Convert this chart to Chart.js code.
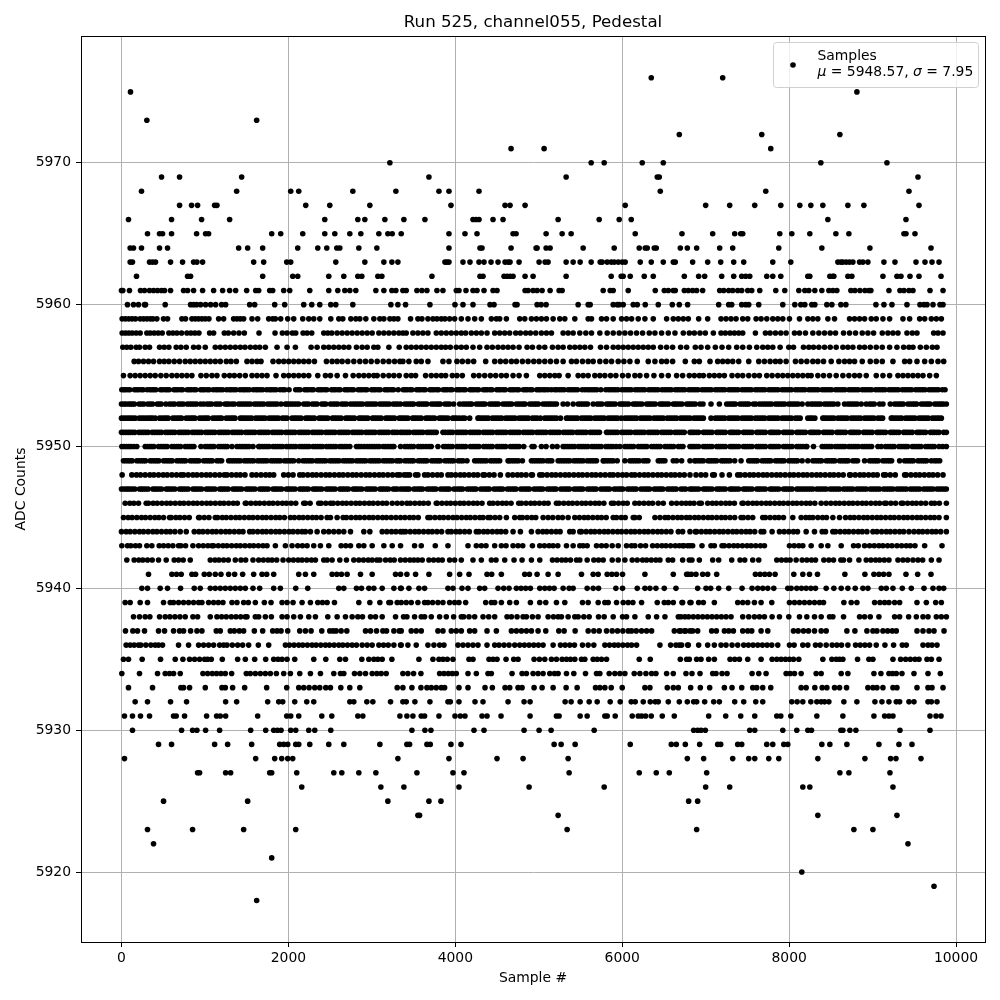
<!DOCTYPE html>
<html>
<head>
<meta charset="utf-8">
<title>Run 525, channel055, Pedestal</title>
<script src="https://cdn.jsdelivr.net/npm/chart.js@4"></script>
<style>
  html, body { margin: 0; padding: 0; background: white; }
  canvas { display: block; }
</style>
</head>
<body>
<canvas id="pedestal" width="1000" height="1000"></canvas>
<script>
// sample numbers that landed on each ADC count
const s5976 = [6348,7204];
const s5975 = [108,8812];
const s5973 = [304,1620];
const s5972 = [6684,7672,8608];
const s5971 = [4668,5064,7780];
const s5970 = [3216,5628,5784,6240,6492,8380,9172];
const s5969 = [480,696,1440,3684,5328,6420,6444,9544];
const s5968 = [240,1380,2028,2124,2772,3288,3804,3924,4284,6456,7720,9436];
const s5967 = [696,840,912,1116,1144,2208,2496,2976,3948,4596,4656,4836,6036,7000,7288,7588,7900,8128,8260,8404,8704,8896,9556];
const s5966 = [84,600,960,1296,2436,2832,2916,3156,3384,3636,4212,4248,4284,4452,4572,5232,5724,5964,6108,8464,9400];
const s5965 = [312,456,492,600,900,1008,1044,1800,1908,2172,2436,2556,2736,2868,3084,3192,3244,3352,3924,4116,4260,4692,4728,5088,5280,5388,6156,6716,7084,7348,7420,7444,7888,8032,8248,8560,8716,9376,9400,9508];
const s5964 = [104,144,240,456,552,1404,1512,1692,2112,2352,2460,2580,2616,2844,3060,3924,4296,4320,4668,4968,4980,5088,5136,5532,5904,6204,6276,6300,6384,6408,6696,6780,6892,7168,7324,7876,8392,8968,9700];
const s5963 = [104,132,336,372,408,588,732,864,904,972,1584,1704,1980,2028,2568,2916,3144,3240,3312,3876,3900,3924,4092,4176,4284,4344,4428,4512,4596,4632,4656,4764,5004,5076,5112,5328,5412,5496,5628,5736,5760,5820,5868,5904,5952,6000,6036,6216,6348,6492,6612,6636,6844,7024,7180,7336,7456,7804,8020,8584,8620,8644,8684,8724,8764,8844,8884,8944,9136,9268,9520,9628,9712,9796];
const s5962 = [180,792,828,1692,2052,2112,2484,2664,2832,2880,3072,3120,3720,4296,4332,4584,4620,4656,4692,4836,4932,5328,5868,5988,6012,6096,6264,6372,6744,6916,6988,7192,7336,7432,7480,7528,7732,7804,7900,8224,8248,8488,8524,8536,8704,8752,9124,9292,9340,9448,9556,9820];
const s5961 = [0,16,96,228,276,336,384,432,480,516,588,744,792,864,972,1104,1212,1296,1368,1500,1608,1644,1776,1812,1944,2016,2256,2484,2592,2676,2736,2808,3048,3144,3240,3288,3372,3412,3540,3600,3660,3780,3852,4012,4044,4128,4212,4260,4344,4452,4500,4836,4872,4932,4980,5040,5136,5244,5280,5772,5856,5892,6072,6396,6504,6552,6612,6636,6744,6792,6844,6892,6964,7168,7216,7276,7324,7384,7432,7504,7552,7648,7840,7948,8116,8188,8236,8308,8392,8476,8524,8572,8740,8788,8848,8908,8956,8980,9196,9328,9376,9436,9484,9688,9844];
const s5960 = [72,144,204,276,288,524,828,864,900,948,1008,1068,1128,1200,1248,1536,1596,1836,1956,2184,2280,2376,2508,2568,2772,3228,3312,3404,3696,3996,4092,4212,4416,4464,4716,4740,4980,5028,5088,5472,5592,5616,5892,5940,5964,6012,6132,6180,6276,6432,6600,6684,6784,7156,7276,7312,7432,7480,7516,7636,7924,8068,8140,8188,8272,8308,8452,8512,8620,8680,9040,9136,9232,9412,9568,9616,9652,9724,9808,9844];
const s5959 = [8,48,88,128,168,224,264,304,344,376,424,504,552,724,768,844,884,924,964,1004,1048,1164,1224,1344,1384,1424,1464,1564,1632,1764,1812,1844,1908,1992,2064,2172,2244,2304,2376,2508,2604,2652,2748,2808,2856,2928,3024,3096,3144,3216,3264,3312,3464,3552,3600,3672,3732,3780,3832,3876,3932,3992,4072,4152,4232,4312,4432,4492,4532,4612,4772,4832,4912,4972,5032,5092,5172,5252,5312,5432,5592,5632,5752,5812,5892,5992,6052,6112,6192,6272,6372,6532,6612,6672,6732,6792,6916,7024,7184,7244,7304,7364,7444,7504,7604,7664,7732,7804,7864,7924,8004,8124,8224,8284,8344,8464,8544,8724,8784,8844,8904,8984,9044,9124,9204,9364,9444,9564,9624,9704,9764,9824];
const s5958 = [8,48,88,128,176,224,304,344,392,440,488,568,616,664,720,784,832,880,928,1056,1104,1232,1280,1344,1408,1472,1648,1840,1928,1984,2048,2088,2176,2224,2280,2424,2472,2520,2584,2644,2704,2764,2824,2884,2944,3004,3084,3144,3204,3264,3324,3372,3412,3492,3552,3612,3672,3772,3832,3892,3952,4012,4072,4124,4192,4252,4312,4380,4472,4532,4592,4652,4724,4780,4844,4900,4964,5032,5092,5152,5292,5352,5412,5492,5564,5632,5732,5820,5892,5964,6032,6100,6172,6244,6324,6392,6472,6552,6632,6732,6804,6864,6932,6996,7092,7184,7236,7292,7344,7396,7444,7596,7716,7772,7836,7900,7964,8064,8124,8196,8284,8356,8424,8492,8556,8652,8724,8796,8876,8944,9012,9116,9184,9244,9304,9412,9476,9532,9732,9784,9844];
const s5957 = [16,64,112,176,216,284,336,456,512,568,656,712,776,864,924,1004,1124,1184,1244,1304,1364,1424,1480,1544,1604,1656,1724,1864,1984,2084,2272,2344,2424,2484,2544,2604,2664,2724,2816,2884,2944,3024,3072,3204,3328,3412,3472,3532,3592,3652,3712,3772,3832,3884,3940,4012,4072,4132,4212,4292,4380,4444,4512,4572,4632,4692,4764,4860,4924,5004,5072,5164,5232,5292,5372,5432,5492,5552,5620,5740,5812,5892,5952,6012,6072,6132,6192,6252,6312,6372,6460,6532,6604,6700,6772,6876,6944,7024,7116,7196,7276,7372,7444,7524,7612,7684,7744,7804,7892,7996,8052,8172,8236,8292,8356,8424,8492,8564,8644,8704,8764,8844,8904,8972,9044,9116,9204,9292,9372,9436,9484,9572,9644,9716,9772];
const s5956 = [152,204,264,324,384,456,512,568,632,696,764,824,884,944,1004,1064,1124,1184,1256,1312,1376,1504,1564,1624,1672,1816,1884,1944,2004,2064,2124,2184,2244,2312,2456,2524,2584,2644,2712,2784,2856,2924,2992,3064,3136,3204,3272,3336,3372,3444,3532,3592,3672,3852,3924,4020,4084,4152,4220,4364,4472,4540,4604,4672,4732,4804,4872,4940,5004,5072,5140,5212,5292,5392,5452,5524,5592,5652,5732,5804,5872,5952,6020,6092,6180,6312,6392,6472,6532,6604,6756,6864,6924,7052,7144,7204,7264,7324,7396,7516,7636,7704,7772,7836,7892,7964,8076,8144,8212,8284,8344,8412,8504,8596,8664,8724,8784,8876,8972,9044,9116,9244,9384,9444,9532,9624,9704,9784,9852];
const s5955 = [24,104,164,224,284,344,404,472,536,604,664,724,784,844,952,1016,1084,1144,1232,1296,1352,1416,1484,1564,1624,1684,1744,1852,1944,2004,2064,2124,2184,2244,2352,2444,2504,2584,2684,2776,2844,2904,2964,3024,3064,3136,3204,3264,3328,3412,3472,3524,3644,3712,3772,3832,3884,3964,4020,4084,4220,4284,4352,4420,4484,4552,4612,4692,4764,4852,5012,5072,5132,5192,5244,5352,5472,5532,5592,5672,5732,5792,5860,5924,6004,6072,6152,6212,6292,6380,6472,6552,6652,6724,6804,6864,6924,6972,7044,7104,7164,7224,7316,7384,7444,7516,7584,7644,7732,7796,7864,7924,7984,8044,8104,8164,8224,8264,8344,8412,8484,8564,8644,8716,8784,8844,8924,9044,9124,9204,9304,9364,9424,9484,9544,9604,9684,9764];
const s5954 = [4,48,100,156,204,260,308,364,412,468,524,572,628,676,732,788,836,892,948,996,1052,1100,1156,1212,1260,1316,1372,1420,1476,1532,1580,1636,1692,1740,1796,1852,1900,1956,2008,2088,2140,2196,2244,2300,2356,2404,2460,2516,2564,2620,2676,2724,2780,2836,2884,2940,2996,3044,3100,3156,3204,3260,3316,3376,3424,3480,3536,3584,3640,3696,3744,3800,3856,3904,3960,4016,4064,4120,4176,4224,4280,4336,4384,4440,4496,4544,4600,4656,4704,4760,4816,4864,4920,4976,5024,5080,5112,5152,5192,5248,5304,5352,5408,5464,5520,5552,5584,5640,5696,5744,5804,5836,5892,5948,5996,6052,6108,6156,6212,6268,6316,6372,6428,6476,6532,6588,6636,6692,6748,6796,6852,6908,6956,7012,7068,7116,7172,7228,7276,7332,7388,7436,7492,7548,7596,7652,7708,7756,7812,7868,7916,7972,8028,8076,8132,8188,8236,8292,8348,8396,8452,8508,8556,8612,8668,8716,8772,8828,8876,8932,8988,9036,9092,9148,9196,9252,9308,9356,9412,9468,9516,9572,9628,9676,9732,9788,9836,9868];
const s5953 = [0,52,108,156,212,268,316,372,428,476,532,576,636,684,740,788,844,900,948,984,1024,1080,1128,1184,1240,1288,1324,1352,1404,1432,1488,1544,1592,1648,1704,1752,1808,1864,1912,1964,1984,2040,2096,2124,2184,2240,2288,2344,2400,2448,2504,2536,2592,2640,2696,2744,2776,2832,2888,2936,2992,3048,3096,3152,3208,3256,3312,3344,3396,3452,3500,3556,3612,3660,3716,3772,3820,3876,3932,3980,4052,4092,4148,4196,4252,4308,4356,4412,4468,4516,4572,4628,4676,4732,4788,4836,4892,4948,4996,5052,5108,5156,5212,5292,5344,5412,5472,5528,5584,5652,5700,5756,5812,5860,5916,5972,6020,6076,6132,6180,6236,6292,6340,6396,6452,6500,6556,6612,6660,6716,6772,6820,6876,6932,6968,7064,7164,7252,7308,7356,7412,7468,7516,7572,7644,7676,7732,7788,7836,7892,7948,7996,8052,8108,8156,8224,8264,8320,8376,8424,8480,8536,8584,8664,8704,8760,8816,8864,8924,8964,9020,9084,9124,9212,9264,9320,9368,9424,9480,9528,9584,9640,9688,9744,9800,9848,9884];
const s5952 = [0,56,108,164,212,268,324,372,404,456,512,560,616,672,720,776,832,880,936,992,1040,1096,1152,1200,1256,1312,1360,1424,1448,1504,1560,1608,1664,1720,1768,1824,1880,1928,1984,2044,2096,2152,2208,2256,2312,2368,2416,2472,2528,2576,2632,2688,2736,2792,2848,2896,2952,3008,3056,3112,3168,3216,3272,3328,3376,3432,3488,3536,3592,3648,3696,3752,3808,3856,3912,3968,4016,4084,4112,4172,4272,4284,4340,4396,4444,4500,4556,4604,4660,4716,4764,4820,4876,4924,4980,5072,5100,5156,5212,5260,5332,5352,5408,5464,5512,5568,5624,5672,5728,5784,5832,5888,5944,6032,6060,6116,6172,6220,6276,6332,6380,6436,6492,6540,6596,6652,6700,6756,6812,6860,6916,6972,7064,7116,7172,7228,7276,7332,7388,7436,7492,7548,7596,7652,7708,7756,7812,7868,7916,7972,8028,8076,8132,8224,8252,8308,8404,8424,8480,8536,8584,8640,8696,8744,8800,8856,8904,8960,9016,9064,9120,9224,9236,9292,9348,9396,9452,9508,9556,9612,9668,9716,9772,9824];
const s5951 = [0,52,104,160,208,264,320,368,424,480,528,584,640,688,744,800,848,904,960,1008,1064,1120,1168,1224,1280,1328,1384,1440,1488,1544,1600,1648,1704,1760,1808,1864,1920,1968,2024,2080,2128,2184,2240,2288,2344,2400,2448,2504,2560,2608,2664,2720,2768,2824,2880,2928,2984,3040,3088,3144,3200,3248,3304,3344,3396,3452,3500,3556,3612,3660,3716,3772,3852,3912,3968,4016,4072,4128,4176,4232,4288,4336,4392,4448,4496,4552,4608,4656,4712,4768,4816,4872,4928,4976,5032,5088,5136,5192,5248,5296,5352,5408,5456,5512,5568,5616,5672,5728,5812,5832,5888,5944,5992,6048,6104,6152,6208,6264,6312,6368,6424,6472,6528,6584,6632,6688,6744,6812,6860,6916,6972,7020,7076,7132,7180,7236,7292,7340,7396,7452,7500,7556,7612,7660,7716,7772,7820,7876,7932,7980,8036,8092,8140,8196,8252,8300,8356,8412,8460,8516,8572,8620,8676,8732,8780,8836,8892,8940,8996,9052,9100,9156,9212,9260,9316,9372,9420,9476,9532,9580,9636,9692,9740,9796,9852,9884];
const s5950 = [4,60,112,184,284,340,388,444,500,548,604,660,708,764,820,868,952,1004,1060,1108,1164,1220,1268,1324,1384,1416,1472,1528,1576,1644,1656,1712,1768,1816,1872,1928,1976,2032,2088,2136,2192,2248,2296,2352,2408,2456,2512,2568,2616,2672,2736,2816,2872,2944,2976,3032,3088,3136,3192,3244,3264,3344,3396,3452,3500,3556,3612,3684,3712,3792,3860,3916,3964,4020,4076,4124,4180,4236,4284,4340,4396,4444,4500,4556,4604,4660,4716,4764,4820,4920,4944,5032,5088,5164,5220,5292,5316,5372,5428,5476,5532,5588,5636,5692,5748,5804,5832,5888,5972,6032,6088,6136,6192,6248,6296,6352,6408,6456,6512,6568,6616,6672,6728,6812,6860,6916,6972,7020,7076,7132,7180,7236,7292,7340,7396,7452,7500,7556,7612,7660,7716,7772,7820,7876,7932,7980,8036,8092,8140,8204,8212,8292,8396,8452,8508,8556,8612,8668,8716,8772,8828,8876,8932,8988,9064,9104,9156,9212,9260,9316,9372,9420,9476,9532,9580,9636,9692,9740,9796,9884];
const s5949 = [24,80,128,184,240,288,344,400,448,504,560,608,664,720,768,824,880,928,984,1040,1088,1144,1200,1284,1312,1368,1424,1472,1528,1584,1632,1688,1744,1792,1848,1904,1952,2008,2064,2124,2176,2232,2288,2336,2392,2448,2496,2552,2608,2656,2712,2768,2816,2872,2928,2976,3032,3088,3136,3192,3248,3296,3344,3396,3452,3500,3556,3612,3660,3716,3772,3820,3876,3932,3980,4036,4092,4140,4232,4260,4316,4372,4420,4476,4532,4632,4644,4700,4756,4804,4912,4940,4996,5052,5100,5156,5232,5260,5316,5372,5420,5476,5532,5580,5636,5692,5772,5780,5836,5892,5940,6032,6092,6148,6204,6252,6308,6432,6456,6512,6612,6652,6712,6812,6868,6916,6972,7028,7076,7132,7188,7236,7292,7348,7424,7516,7572,7620,7676,7732,7780,7836,7892,7940,7996,8052,8100,8156,8224,8284,8340,8388,8444,8500,8548,8604,8660,8708,8764,8820,8904,8964,9020,9068,9124,9180,9228,9324,9384,9440,9488,9544,9600,9648,9704,9804];
const s5948 = [8,124,180,228,284,340,388,444,500,548,604,660,712,744,800,856,904,960,1016,1064,1120,1176,1232,1264,1320,1376,1424,1480,1564,1616,1672,1728,1776,1824,1944,2000,2056,2136,2176,2232,2288,2336,2392,2448,2496,2552,2608,2656,2712,2768,2816,2872,2928,2976,3032,3088,3136,3192,3248,3304,3336,3388,3420,3452,3524,3552,3632,3672,3728,3784,3832,3912,3952,4004,4060,4108,4164,4220,4268,4332,4352,4408,4464,4540,4632,4688,4744,4792,4848,4912,4924,5012,5044,5100,5156,5204,5260,5316,5364,5420,5476,5524,5580,5636,5684,5740,5796,5852,5892,5948,6004,6052,6112,6152,6208,6264,6312,6368,6424,6472,6528,6584,6632,6688,6744,6812,6884,6944,7000,7084,7104,7196,7284,7384,7416,7472,7528,7576,7632,7688,7736,7792,7848,7896,7952,8008,8056,8112,8168,8216,8272,8328,8376,8432,8488,8536,8592,8648,8724,8736,8792,8848,8896,8952,9008,9056,9132,9156,9212,9272,9384,9404,9460,9516,9564,9620,9676,9724,9780,9844];
const s5947 = [0,56,104,160,216,264,320,376,424,480,536,584,640,696,744,800,856,904,960,1016,1064,1120,1176,1224,1280,1336,1384,1440,1496,1544,1600,1656,1704,1760,1816,1864,1920,1976,2024,2080,2136,2184,2240,2296,2344,2400,2456,2504,2560,2616,2664,2720,2776,2824,2880,2936,2984,3040,3096,3144,3200,3256,3304,3344,3400,3448,3504,3560,3608,3664,3720,3768,3824,3880,3928,3984,4040,4088,4144,4200,4248,4304,4360,4408,4464,4520,4568,4624,4680,4728,4784,4840,4888,4944,5000,5048,5104,5160,5208,5264,5320,5368,5424,5480,5528,5584,5640,5688,5744,5800,5848,5904,5960,6008,6064,6120,6168,6224,6280,6328,6384,6440,6488,6544,6600,6648,6704,6760,6812,6860,6916,6972,7020,7076,7132,7180,7236,7292,7340,7396,7452,7500,7556,7612,7660,7716,7772,7820,7876,7932,7980,8036,8092,8144,8172,8228,8284,8332,8388,8444,8492,8548,8604,8652,8708,8764,8812,8868,8924,8972,9028,9084,9132,9188,9244,9292,9348,9404,9452,9508,9564,9612,9668,9724,9772,9828,9884];
const s5946 = [44,100,148,204,296,324,380,428,484,540,588,644,700,748,804,860,908,964,1020,1068,1124,1180,1228,1284,1340,1388,1484,1496,1552,1608,1656,1712,1768,1816,1872,1928,1976,2032,2088,2184,2204,2260,2364,2392,2448,2504,2536,2592,2648,2696,2752,2808,2856,2912,2968,3016,3072,3128,3176,3244,3304,3360,3420,3460,3516,3572,3620,3676,3772,3784,3840,3896,3944,4000,4056,4104,4160,4216,4264,4320,4412,4452,4508,4564,4612,4668,4760,4792,4848,4904,4952,5008,5064,5112,5212,5244,5300,5356,5404,5460,5516,5564,5620,5676,5724,5780,5872,5900,5956,6012,6060,6152,6204,6260,6316,6364,6432,6492,6592,6652,6712,6764,6812,6860,6924,6948,7024,7080,7128,7184,7240,7288,7344,7436,7452,7508,7564,7612,7668,7724,7772,7828,7884,7932,7988,8044,8092,8148,8204,8252,8308,8384,8444,8500,8556,8604,8660,8716,8764,8820,8876,8924,8980,9036,9084,9144,9164,9220,9276,9344,9364,9420,9476,9524,9580,9636,9704,9744,9800,9884];
const s5945 = [24,80,128,184,240,288,344,400,448,504,576,596,652,700,756,812,924,936,992,1048,1124,1152,1208,1256,1312,1368,1416,1472,1528,1576,1632,1688,1736,1792,1848,1896,1952,2024,2072,2128,2176,2232,2288,2336,2392,2464,2504,2584,2656,2696,2752,2808,2856,2912,2968,3016,3072,3128,3176,3232,3288,3344,3396,3452,3500,3556,3672,3700,3756,3812,3860,3916,3972,4020,4076,4132,4180,4236,4292,4332,4392,4420,4476,4532,4612,4712,4772,4804,4860,4916,4964,5052,5112,5168,5232,5284,5352,5432,5488,5544,5592,5648,5704,5752,5808,5892,5932,5988,6036,6132,6152,6204,6392,6452,6512,6552,6608,6664,6712,6768,6812,6868,6916,6972,7028,7076,7132,7188,7236,7292,7348,7424,7452,7508,7564,7684,7716,7772,7828,7876,7932,8044,8144,8200,8244,8284,8344,8400,8448,8524,8604,8676,8732,8780,8836,8892,8940,8996,9052,9100,9156,9212,9260,9316,9372,9420,9476,9532,9580,9636,9692,9740,9796,9884];
const s5944 = [0,56,104,160,216,264,320,376,424,480,536,584,640,704,776,872,928,976,1032,1088,1136,1192,1248,1296,1352,1408,1456,1536,1576,1632,1688,1736,1792,1848,1896,1952,2008,2056,2112,2164,2204,2264,2344,2424,2484,2544,2604,2664,2744,2904,2976,3124,3180,3236,3288,3344,3372,3404,3460,3516,3564,3620,3676,3724,3780,3836,3912,3952,4008,4056,4112,4168,4252,4284,4340,4388,4444,4500,4548,4604,4692,4780,4912,4992,5048,5096,5152,5208,5256,5372,5412,5492,5512,5568,5624,5672,5728,5784,5832,5888,5944,5992,6048,6104,6152,6208,6264,6312,6368,6424,6472,6528,6584,6672,6724,6812,6876,6892,6948,7004,7052,7108,7164,7212,7268,7324,7372,7428,7484,7532,7588,7664,7696,7796,7884,7940,7996,8052,8100,8204,8304,8396,8436,8524,8556,8612,8668,8716,8772,8828,8876,8932,9004,9052,9108,9164,9212,9268,9324,9372,9436,9496,9552,9600,9656,9712,9760,9816,9884];
const s5943 = [4,72,112,168,216,304,364,452,504,560,616,684,712,768,856,924,980,1036,1084,1104,1160,1216,1264,1320,1376,1424,1480,1536,1584,1640,1696,1744,1844,1964,2044,2112,2168,2224,2304,2384,2484,2632,2688,2744,2844,2904,3004,3144,3244,3344,3512,3592,3760,3912,4152,4252,4312,4368,4472,4552,4608,4692,4752,4808,4924,5012,5068,5124,5172,5228,5332,5412,5492,5532,5580,5692,5752,5808,5880,5952,6052,6112,6152,6220,6280,6364,6420,6476,6524,6580,6636,6684,6740,6812,6724,6784,6844,6956,7064,7104,7196,7224,7280,7336,7384,7440,7496,7544,7600,7656,7704,8004,8060,8116,8164,8264,8384,8464,8624,8772,8828,8904,8964,9020,9076,9124,9180,9232,9292,9348,9404,9452,9508,9624,9832];
const s5942 = [64,152,208,256,312,368,444,536,632,684,740,824,1064,1120,1168,1224,1280,1364,1432,1488,1576,1644,1700,1756,1804,1860,1936,2004,2060,2116,2164,2220,2276,2324,2424,2464,2524,2616,2696,2784,2844,2900,2956,3004,3060,3096,3164,3220,3268,3344,3400,3456,3504,3552,3604,3684,3740,3796,3844,3932,3992,4072,4212,4312,4432,4488,4592,4704,4800,4912,5012,5164,5220,5276,5324,5380,5452,5492,5580,5660,5716,5772,5880,5952,6032,6120,6180,6244,6292,6348,6404,6452,6552,6604,6724,6804,6836,6924,7084,7156,7312,7412,7468,7564,7636,7852,7908,7964,8012,8084,8156,8212,8268,8316,8416,8476,8532,8620,8652,8724,8836,8924,8980,9036,9084,9140,9196,9304,9364,9420,9484,9544,9600,9704,9796];
const s5941 = [324,604,660,716,844,888,992,1052,1124,1192,1284,1356,1452,1584,1684,1740,1824,2124,2204,2304,2524,2580,2636,2704,2864,3004,3284,3344,3420,3524,3684,3932,4052,4164,4380,4436,4552,4832,4888,4980,5112,5232,5512,5652,5712,5820,5876,5932,6004,6272,6612,6792,6772,6828,6884,6964,7024,7132,7596,7652,7708,7764,7832,8056,8164,8244,8340,8668,8908,9016,9076,9132,9196,9400,9540,9700];
const s5940 = [244,312,464,552,708,872,944,1064,1124,1184,1244,1304,1364,1424,1484,1576,1656,1824,1904,2088,2232,2604,2664,2816,2876,2964,3024,3124,3264,3344,3352,3444,3564,3632,3912,3972,4080,4152,4292,4352,4512,4580,4644,4732,4788,4844,4900,5012,5072,5128,5184,5292,5364,5412,5580,5652,5716,5924,6004,6180,6272,6332,6404,6504,6644,6904,7004,7060,7156,7276,7436,7556,7624,7684,7744,7816,7984,8024,8092,8148,8204,8260,8316,8444,8536,8624,8704,8792,8884,8944,9104,9164,9244,9356,9464,9616,9724,9796,9852];
const s5939 = [44,104,224,312,504,584,624,684,744,804,864,924,964,1044,1104,1160,1216,1324,1384,1464,1520,1604,1712,1792,1924,1984,2056,2164,2264,2352,2408,2464,2552,2844,2976,3096,3204,3224,3304,3352,3412,3472,3552,3632,3672,3728,3792,3852,3932,3992,4044,4124,4364,4432,4472,4552,4652,4732,4900,5012,5084,5212,5312,5524,5592,5712,5792,5832,5932,6012,6072,6128,6232,6420,6504,6552,6612,6724,6812,6716,6824,6916,6972,7104,7384,7444,7504,7584,7664,7792,8004,8064,8124,8184,8244,8304,8364,8412,8656,8744,8812,9024,9088,9144,9196,9264,9324,9532,9644,9756,9824];
const s5938 = [144,216,284,340,456,524,580,640,700,764,856,912,1064,1144,1200,1256,1316,1372,1428,1484,1504,1604,1644,1724,1796,1924,1984,2064,2144,2244,2324,2472,2584,2684,2764,2832,2888,2984,3044,3124,3284,3380,3420,3512,3592,3632,3712,3812,3892,3980,4072,4100,4164,4232,4332,4400,4472,4620,4672,4740,4812,4852,4924,4992,5112,5176,5232,5272,5352,5432,5472,5540,5604,5716,5784,5892,6004,6052,6152,6312,6412,6512,6672,6752,6704,6796,6852,6908,6964,7020,7076,7132,7188,7244,7304,7444,7516,7584,7644,7704,7796,7884,7996,8124,8212,8304,8384,8484,8524,8652,8844,8904,8972,9076,9264,9324,9432,9524,9604,9664,9764,9824,9884];
const s5937 = [48,136,192,276,444,516,624,696,744,828,904,964,1136,1184,1304,1352,1412,1464,1592,1692,1812,1864,1912,1992,2136,2204,2272,2400,2496,2536,2572,2632,2700,2924,2984,3056,3132,3176,3264,3328,3352,3472,3532,3592,3792,3852,3952,4012,4072,4172,4232,4380,4492,4672,4732,4792,4852,4912,4992,5084,5240,5304,5436,5592,5660,5724,5812,5880,5944,6008,6072,6112,6168,6232,6292,6352,6624,6700,6760,6812,6684,6748,6844,6904,7072,7128,7224,7276,7332,7444,7504,7552,7664,7744,8052,8108,8172,8232,8304,8384,8444,8692,8788,8932,9004,9052,9124,9180,9236,9284,9532,9604,9676,9736,9856];
const s5936 = [56,104,152,204,232,292,352,404,444,492,684,804,924,984,1044,1104,1176,1224,1264,1328,1392,1452,1524,1640,1764,1964,2012,2068,2124,2172,2228,2284,2332,2388,2444,2492,2548,2604,2652,2708,2764,2816,2884,2944,3004,3084,3140,3196,3264,3344,3352,3432,3532,3672,3744,3812,3864,4032,4092,4152,4212,4272,4380,4472,4524,4584,4644,4712,4772,4828,4884,4940,4996,5052,5172,5260,5316,5372,5428,5524,5592,5660,5792,5848,5904,5952,6008,6064,6112,6172,6452,6580,6644,6712,6792,6684,6784,6916,7024,7104,7184,7244,7316,7384,7456,7512,7568,7624,7680,7736,7792,7864,8004,8060,8164,8224,8316,8372,8444,8516,8572,8628,8704,8796,8852,8908,8964,9044,9148,9252,9356,9404,9604,9664,9712,9772];
const s5935 = [24,84,248,468,644,736,816,876,936,996,1032,1076,1208,1392,1484,1596,1728,1824,1876,1924,1984,2076,2304,2448,2616,2684,2880,2964,3024,3072,3124,3240,3564,3732,3804,3852,3904,3972,4164,4212,4404,4452,4500,4608,4700,4752,4944,5008,5072,5152,5212,5280,5332,5380,5432,5512,5552,5652,5700,5752,5812,6204,6336,6696,6772,6804,6892,6944,7036,7104,7292,7348,7404,7504,7664,7796,7852,7904,7956,8004,8052,8116,8404,8512,8564,8604,8644,8820,8956,9004,9244,9336,9396,9452,9508,9556,9652,9704,9796];
const s5934 = [4,216,432,524,576,624,704,976,1032,1088,1140,1192,1244,1320,1496,1544,1604,1664,1724,1784,1856,1944,2024,2136,2264,2384,2544,2624,2664,2792,2856,2924,3004,3060,3112,3172,3372,3432,3500,3588,3812,3864,3916,3964,4012,4152,4252,4392,4432,4680,4800,4852,4932,4992,5052,5132,5188,5232,5332,5420,5560,5692,5732,5844,5912,5972,6032,6144,6212,6284,6352,6404,6532,6612,6764,6836,6932,7084,7124,7196,7256,7556,7636,7724,7964,8012,8064,8144,8324,8384,8624,8704,9016,9100,9196,9240,9284,9352,9496,9664,9812];
const s5933 = [84,372,712,744,816,1004,1204,1244,1332,1476,1740,1980,2124,2184,2248,2316,2376,2448,2504,2628,2736,2856,3304,3372,3480,3588,3660,3712,3772,3832,3872,4044,4152,4356,4444,4596,4652,4752,4800,4944,5040,5172,5328,5460,5680,5732,5792,5868,6000,6272,6332,6540,6612,6672,6820,6936,7048,7224,7316,7432,7564,7612,7684,7780,8144,8204,8308,8396,8452,8544,8604,8688,8944,9004,9052,9124,9244,9292,9532,9664,9712,9844];
const s5932 = [164,312,588,780,1248,1380,1752,1884,1932,2076,2220,2304,2736,2784,2940,3012,3224,3372,3412,3516,3696,3912,3940,4044,4236,4332,4632,4824,4896,5316,5388,5496,5604,5700,5856,5976,6108,6156,6252,6336,6396,6432,6552,6684,6780,6856,6892,6988,7096,7164,7348,7456,7600,7684,8032,8096,8164,8260,8332,8384,8424,8476,8656,8812,9028,9112,9196,9284,9324,9436,9496,9664,9704,9772];
const s5931 = [36,132,228,336,624,656,756,1020,1140,1184,1248,1632,1980,2028,2124,2400,2520,2832,2892,3336,3420,3492,3592,3632,3804,3996,4060,4116,4320,4380,4548,4896,5212,5244,5496,5580,5792,5820,5916,6120,6192,6232,6280,6348,6480,6624,7036,7240,7420,7588,7852,7900,8020,8332,8644,9016,9144,9196,9244,9688,9760,9820];
const s5930 = [132,720,852,904,1008,1176,1548,1728,1824,1868,1912,2028,2088,2244,2316,2508,3480,3636,3708,4224,4344,4824,5004,5148,5664,6856,6904,6944,6996,7528,7588,7924,8092,8224,8268,8620,8644,8728,8800,9328,9688];
const s5929 = [444,600,1116,1272,1560,1896,1944,1992,2088,2124,2256,2484,2664,3096,3420,3452,3660,3700,3948,4068,5184,5268,5436,6096,6588,6648,6756,6928,7144,7180,7384,7432,7732,7804,7936,7984,8392,8488,8692,9076,9316,9472];
const s5928 = [36,1608,1836,1920,1992,2052,3312,3924,4500,4812,5352,6780,6976,7324,7516,7588,7756,7876,8344,8908,9216,9280,9580];
const s5927 = [912,936,1248,1308,1776,1800,2100,2544,2640,2844,3048,3540,3972,4104,5364,6204,6408,6564,7012,8608,8716,9208];
const s5926 = [2160,3108,3384,4044,4884,5784,7000,7288,8164,8248,9244];
const s5925 = [504,1512,3192,3684,3828,6796,6904];
const s5924 = [3552,3572,5232,8344,9292];
const s5923 = [312,852,1464,2088,5340,6892,8776,9004];
const s5922 = [384,9424];
const s5921 = [1800];
const s5920 = [8152];
const s5919 = [9736];
const s5918 = [1620];

// further samples on the busiest rows, these run almost solid in the picture
const e5954 = [28,76,180,236,340,388,492,548,652,708,812,868,972,1028,1132,1184,1292,1344,1452,1504,1612,1664,1772,1824,1932,2116,2220,2276,2380,2436,2540,2596,2700,2756,2860,2916,3020,3076,3180,3236,3400,3456,3560,3616,3720,3776,3880,3936,4040,4096,4200,4256,4360,4416,4520,4576,4680,4736,4840,4896,5000,5056,5216,5276,5380,5436,5612,5668,5864,5920,6024,6080,6184,6240,6344,6400,6504,6560,6664,6720,6824,6880,6984,7040,7144,7200,7304,7360,7464,7520,7624,7680,7784,7840,7944,8000,8104,8160,8264,8320,8424,8480,8584,8640,8744,8800,8904,8960,9064,9120,9224,9280,9384,9440,9544,9600,9704,9760];
const e5953 = [28,84,132,240,344,452,608,712,816,872,1052,1156,1264,1460,1516,1620,1676,1780,1836,2012,2068,2212,2316,2424,2564,2668,2804,2860,2964,3020,3124,3180,3284,3424,3476,3584,3636,3744,3796,3904,4120,4176,4280,4332,4440,4492,4600,4652,4760,4816,4920,4972,5080,5132,5184,5500,5556,5728,5836,5888,5996,6048,6156,6208,6316,6368,6476,6528,6636,6688,6796,6848,7280,7332,7440,7492,7600,7704,7760,7864,7920,8024,8080,8292,8348,8452,8508,8732,8788,8992,9292,9344,9452,9504,9612,9664,9772,9824];
const e5952 = [28,84,136,240,296,348,484,536,644,696,804,856,964,1016,1124,1176,1284,1336,1476,1532,1636,1692,1796,1852,1956,2072,2124,2232,2284,2392,2444,2552,2604,2712,2764,2872,2924,3032,3084,3192,3244,3352,3404,3512,3564,3672,3724,3832,3884,3992,4048,4312,4368,4472,4528,4632,4688,4792,4848,4952,5020,5128,5184,5380,5436,5540,5596,5700,5756,5860,5916,5988,6088,6144,6248,6304,6408,6464,6568,6624,6728,6784,6888,6944,7144,7200,7304,7360,7464,7520,7624,7680,7784,7840,7944,8000,8104,8276,8452,8508,8612,8668,8772,8828,8932,8988,9092,9264,9320,9424,9480,9584,9640,9744,9796];
const e5951 = [24,80,132,236,292,396,452,556,612,716,772,876,932,1036,1092,1196,1252,1356,1412,1516,1572,1676,1732,1836,1892,1996,2052,2156,2212,2316,2372,2476,2532,2636,2692,2796,2852,2956,3012,3116,3172,3276,3368,3424,3528,3584,3688,3744,3880,3940,4044,4100,4204,4260,4364,4420,4524,4580,4684,4740,4844,4900,5004,5060,5164,5220,5324,5380,5484,5540,5644,5700,5860,5916,6020,6076,6180,6236,6340,6396,6500,6556,6660,6716,6836,6888,6996,7048,7156,7208,7316,7368,7476,7528,7636,7688,7796,7848,7956,8008,8116,8168,8276,8328,8436,8488,8596,8648,8756,8808,8916,8968,9076,9128,9236,9288,9396,9448,9556,9608,9716,9768];
const e5950 = [32,88,148,312,364,472,524,632,684,792,844,1032,1084,1192,1244,1444,1500,1684,1740,1844,1900,2004,2060,2164,2220,2324,2380,2484,2540,2644,2700,2844,2908,3004,3060,3164,3220,3424,3476,3584,3648,3888,3940,4048,4100,4208,4260,4368,4420,4528,4580,4688,4740,5344,5400,5504,5560,5664,5720,5860,5928,6060,6112,6220,6272,6380,6432,6540,6592,6700,6836,6888,6996,7048,7156,7208,7316,7368,7476,7528,7636,7688,7796,7848,7956,8008,8116,8168,8424,8480,8584,8640,8744,8800,8904,8960,9184,9236,9344,9396,9504,9556,9664,9716,9840];
const e5949 = [52,104,212,264,372,424,532,584,692,744,852,904,1012,1064,1172,1340,1396,1500,1556,1660,1716,1820,1876,1980,2036,2204,2260,2364,2420,2524,2580,2684,2740,2844,2900,3004,3060,3164,3220,3320,3424,3476,3584,3636,3744,3796,3904,3956,4064,4288,4344,4448,4504,4672,4728,4968,5024,5128,5288,5344,5448,5504,5608,5664,5808,5864,6120,6176,6280,6484,6884,6944,7052,7104,7212,7264,7544,7596,7704,7756,7864,7916,8024,8076,8312,8364,8472,8524,8632,8684,8792,8992,9044,9152,9204,9412,9464,9572,9624,9744,9772];
const e5947 = [28,80,132,240,292,400,452,560,612,720,772,880,932,1040,1092,1200,1252,1360,1412,1520,1572,1680,1732,1840,1892,2000,2052,2160,2212,2320,2372,2480,2532,2640,2692,2800,2852,2960,3012,3120,3172,3280,3372,3424,3532,3584,3692,3744,3852,3904,4012,4064,4172,4224,4332,4384,4492,4544,4652,4704,4812,4864,4972,5024,5132,5184,5292,5344,5452,5504,5612,5664,5772,5824,5932,5984,6092,6144,6252,6304,6412,6464,6572,6624,6732,6836,6888,6996,7048,7156,7208,7316,7368,7476,7528,7636,7688,7796,7848,7956,8008,8116,8200,8256,8360,8416,8520,8576,8680,8736,8840,8896,9000,9056,9160,9216,9320,9376,9480,9536,9640,9696,9800,9856];

const levels = [5976,5975,5973,5972,5971,5970,5969,5968,5967,5966,5965,5964,5963,5962,5961,5960,5959,5958,5957,5956,5955,5954,5953,5952,5951,5950,5949,5948,5947,5946,5945,5944,5943,5942,5941,5940,5939,5938,5937,5936,5935,5934,5933,5932,5931,5930,5929,5928,5927,5926,5925,5924,5923,5922,5921,5920,5919,5918,5954,5953,5952,5951,5950,5949,5947];
const samplesByLevel = [s5976,s5975,s5973,s5972,s5971,s5970,s5969,s5968,s5967,s5966,s5965,s5964,s5963,s5962,s5961,s5960,s5959,s5958,s5957,s5956,s5955,s5954,s5953,s5952,s5951,s5950,s5949,s5948,s5947,s5946,s5945,s5944,s5943,s5942,s5941,s5940,s5939,s5938,s5937,s5936,s5935,s5934,s5933,s5932,s5931,s5930,s5929,s5928,s5927,s5926,s5925,s5924,s5923,s5922,s5921,s5920,s5919,s5918,e5954,e5953,e5952,e5951,e5950,e5949,e5947];

const xTicks = [0,2000,4000,6000,8000,10000];
const yTicks = [5920,5930,5940,5950,5960,5970];
const FONT = "'DejaVu Sans', sans-serif";

const points = [];
levels.forEach((adc, i) => {
    samplesByLevel[i].forEach(n => points.push({x: n, y: adc}));
});

// frame on all four sides plus the matplotlib style legend box
const framePlugin = {
    id: "frame",
    afterDraw(chart) {
        const ctx = chart.ctx;
        const a = chart.chartArea;
        ctx.save();
        ctx.strokeStyle = "black";
        ctx.lineWidth = 1;
        ctx.strokeRect(a.left + 0.5, a.top + 0.5, a.right - a.left, a.bottom - a.top);

        ctx.beginPath();
        ctx.roundRect(773.5, 42.5, 205, 45, 3);
        ctx.fillStyle = "rgba(255,255,255,0.8)";
        ctx.fill();
        ctx.strokeStyle = "#d0d0d0";
        ctx.stroke();

        ctx.fillStyle = "black";
        ctx.beginPath();
        ctx.arc(793, 65, 2.8, 0, Math.PI * 2);
        ctx.fill();

        ctx.textBaseline = "alphabetic";
        ctx.font = "13.9px " + FONT;
        ctx.fillText("Samples", 817.5, 60);
        let x = 817.5;
        const parts = [["\u03bc", true], [" = 5948.57, ", false], ["\u03c3", true], [" = 7.95", false]];
        parts.forEach(([txt, italic]) => {
            ctx.font = (italic ? "italic " : "") + "13.9px " + FONT;
            ctx.fillText(txt, x, 76);
            x += ctx.measureText(txt).width;
        });
        ctx.restore();
    },
};

new Chart("pedestal", {
    type: "scatter",
    data: {
        datasets: [{
            label: "Samples",
            data: points,
            backgroundColor: "black",
            borderWidth: 0,
            pointRadius: 2.8,
        }],
    },
    options: {
        responsive: false,
        animation: false,
        layout: { padding: { top: 0, right: 15, bottom: 0, left: 0 } },
        plugins: {
            legend: { display: false },
            tooltip: { enabled: false },
            title: {
                display: true,
                text: "Run 525, channel055, Pedestal",
                color: "black",
                fullSize: false,
                font: { family: FONT, size: 16.67, weight: "normal" },
                padding: { top: 13, bottom: 3 },
            },
        },
        scales: {
            x: {
                type: "linear",
                min: -485,
                max: 10347,
                afterBuildTicks: s => { s.ticks = xTicks.map(v => ({value: v})); },
                afterFit: s => { s.height = 58; },
                grid: { color: "#b0b0b0", lineWidth: 1, tickColor: "black", tickLength: 5 },
                border: { color: "black" },
                ticks: { color: "black", maxRotation: 0, padding: 3, font: { family: FONT, size: 13.9 }, callback: v => String(v) },
                title: { display: true, text: "Sample #", color: "black", padding: { top: 4, bottom: 13 }, font: { family: FONT, size: 13.9 } },
            },
            y: {
                type: "linear",
                min: 5915.07,
                max: 5978.94,
                afterBuildTicks: s => { s.ticks = yTicks.map(v => ({value: v})); },
                afterFit: s => { s.width = 81; },
                grid: { color: "#b0b0b0", lineWidth: 1, tickColor: "black", tickLength: 5 },
                border: { color: "black" },
                ticks: { color: "black", padding: 5, font: { family: FONT, size: 13.9 }, callback: v => String(v) },
                title: { display: true, text: "ADC Counts", color: "black", padding: { top: 13, bottom: 0 }, font: { family: FONT, size: 13.9 } },
            },
        },
    },
    plugins: [framePlugin],
});
</script>
</body>
</html>
